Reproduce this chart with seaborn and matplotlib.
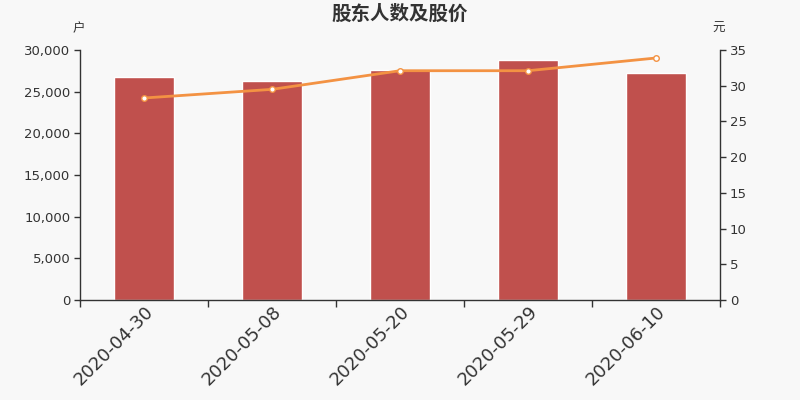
import numpy as np
import pandas as pd
import matplotlib
matplotlib.use("Agg")
import matplotlib.pyplot as plt
import seaborn as sns
from matplotlib.ticker import FuncFormatter, FixedLocator

dates = ["2020-04-30", "2020-05-08", "2020-05-20", "2020-05-29", "2020-06-10"]
holders = [26760, 26240, 27600, 28840, 27200]
prices = [28.28, 29.49, 32.10, 32.10, 33.88]
left_ticks = [0, 5000, 10000, 15000, 20000, 25000, 30000]
right_ticks = [0, 5, 10, 15, 20, 25, 30, 35]

sns.set_theme(style="white")
plt.rcParams['font.family'] = ['DejaVu Sans', 'Noto Sans CJK SC']

bg = "#f8f8f8"
bar_color = "#c0504d"
line_color = "#f39243"
text_color = "#333333"

fig = plt.figure(figsize=(8, 4), dpi=100, facecolor=bg)
ax = fig.add_axes([0.1, 0.25, 0.8, 0.625])
ax.set_facecolor(bg)

df = pd.DataFrame({"date": dates, "holders": holders, "price": prices})
sns.barplot(data=df, x="date", y="holders", color=bar_color, saturation=1,
            width=0.47, ax=ax)
ax.set_ylim(0, 30000)
ax.set_xlim(-0.5, len(dates) - 0.5)
ax.set_yticks(left_ticks)
ax.yaxis.set_major_formatter(FuncFormatter(lambda v, p: f"{int(v):,}"))
ax.set_xlabel("")
ax.set_ylabel("")

ax2 = ax.twinx()
sns.lineplot(x=np.arange(len(dates)), y=df["price"], ax=ax2, color=line_color,
             linewidth=2, marker="o", markersize=4, markerfacecolor="white",
             markeredgecolor=line_color, markeredgewidth=1)
ax2.set_ylim(0, 35)
ax2.set_yticks(right_ticks)
ax2.set_ylabel("")
ax2.set_xlim(-0.5, len(dates) - 0.5)

for a in (ax, ax2):
    for s in a.spines.values():
        s.set_visible(False)
ax.spines["left"].set_visible(True)
ax.spines["bottom"].set_visible(True)
ax2.spines["right"].set_visible(True)
for s in (ax.spines["left"], ax.spines["bottom"], ax2.spines["right"]):
    s.set_color(text_color)
    s.set_linewidth(1)

ax.tick_params(axis="y", direction="out", length=4, width=1, color=text_color,
               labelsize=9.5, labelcolor=text_color, left=True, pad=3)
ax2.tick_params(axis="y", direction="out", length=4, width=1, color=text_color,
                labelsize=9.5, labelcolor=text_color, right=True, pad=3)

# x ticks: labels at centers, tick marks at band boundaries
ax.set_xticks(range(len(dates)))
ax.set_xticklabels(dates, rotation=45, ha="right", rotation_mode="anchor",
                   fontsize=13, color=text_color)
ax.xaxis.set_minor_locator(FixedLocator(np.arange(-0.5, len(dates), 1.0)))
ax.tick_params(axis="x", which="major", length=0, pad=2)
ax.tick_params(axis="x", which="minor", direction="out", length=5, width=1,
               color=text_color, bottom=True)

fig.text(0.5, 0.965, "股东人数及股价", ha="center", va="center", fontsize=14,
         fontweight="bold", color=text_color, family=['Noto Sans CJK SC', 'DejaVu Sans'])
fig.text(0.098, 0.928, "户", ha="center", va="center", fontsize=9,
         color=text_color, family=['Noto Sans CJK SC', 'DejaVu Sans'])
fig.text(0.898, 0.928, "元", ha="center", va="center", fontsize=9,
         color=text_color, family=['Noto Sans CJK SC', 'DejaVu Sans'])

fig.savefig("out.png", dpi=100, facecolor=bg)
